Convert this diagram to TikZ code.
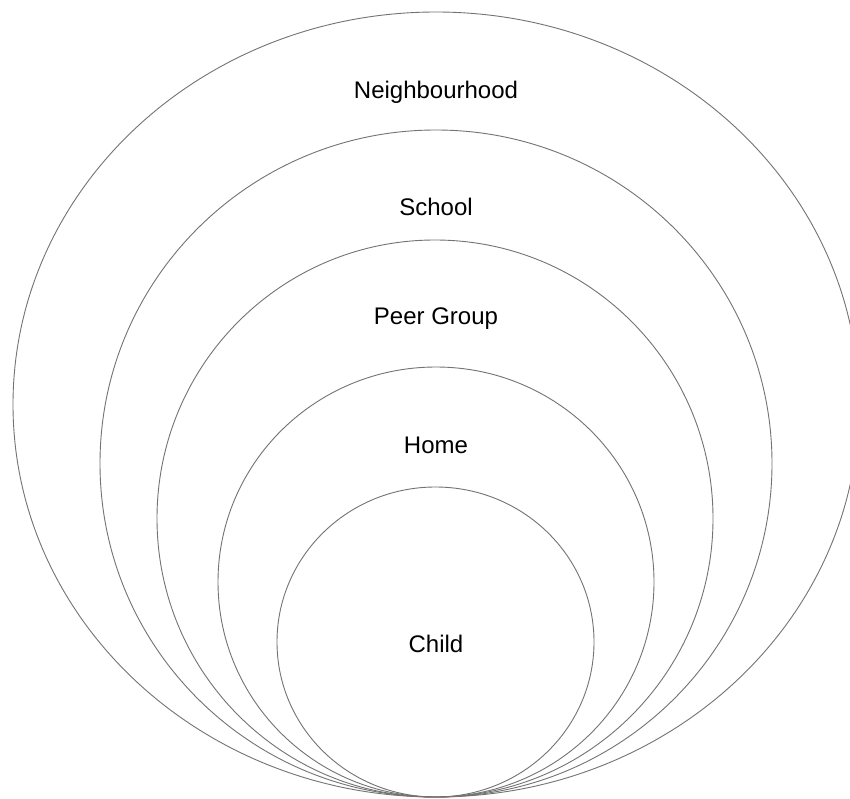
\documentclass[tikz,border=0pt]{standalone}
\usepackage{fontspec}
\setmainfont{Liberation Sans}
\begin{document}
\begin{tikzpicture}[x=1pt,y=-1pt,
  ring/.style={draw=black!55,line width=0.9pt},
  lbl/.style={anchor=base,inner sep=0pt,font=\fontsize{24}{28}\selectfont}]
\useasboundingbox[fill=white] (0,0) rectangle (850,799);
\draw[ring] (436,404.5) ellipse [x radius=423, y radius=392.5];
\draw[ring] (436,463.5) ellipse [x radius=336, y radius=333.5];
\draw[ring] (435,518.5) ellipse [x radius=278, y radius=278.5];
\draw[ring] (436,582) ellipse [x radius=218, y radius=215];
\draw[ring] (435.5,642) ellipse [x radius=158.5, y radius=155];
\node[lbl] (n1) at (436,99) {Neighbourhood};
\node[lbl] (n2) at (436,216) {School};
\node[lbl] (n3) at (436,324) {Peer Group};
\node[lbl] (n4) at (436,453) {Home};
\node[lbl] (n5) at (436,652.5) {Child};
\end{tikzpicture}
\end{document}
